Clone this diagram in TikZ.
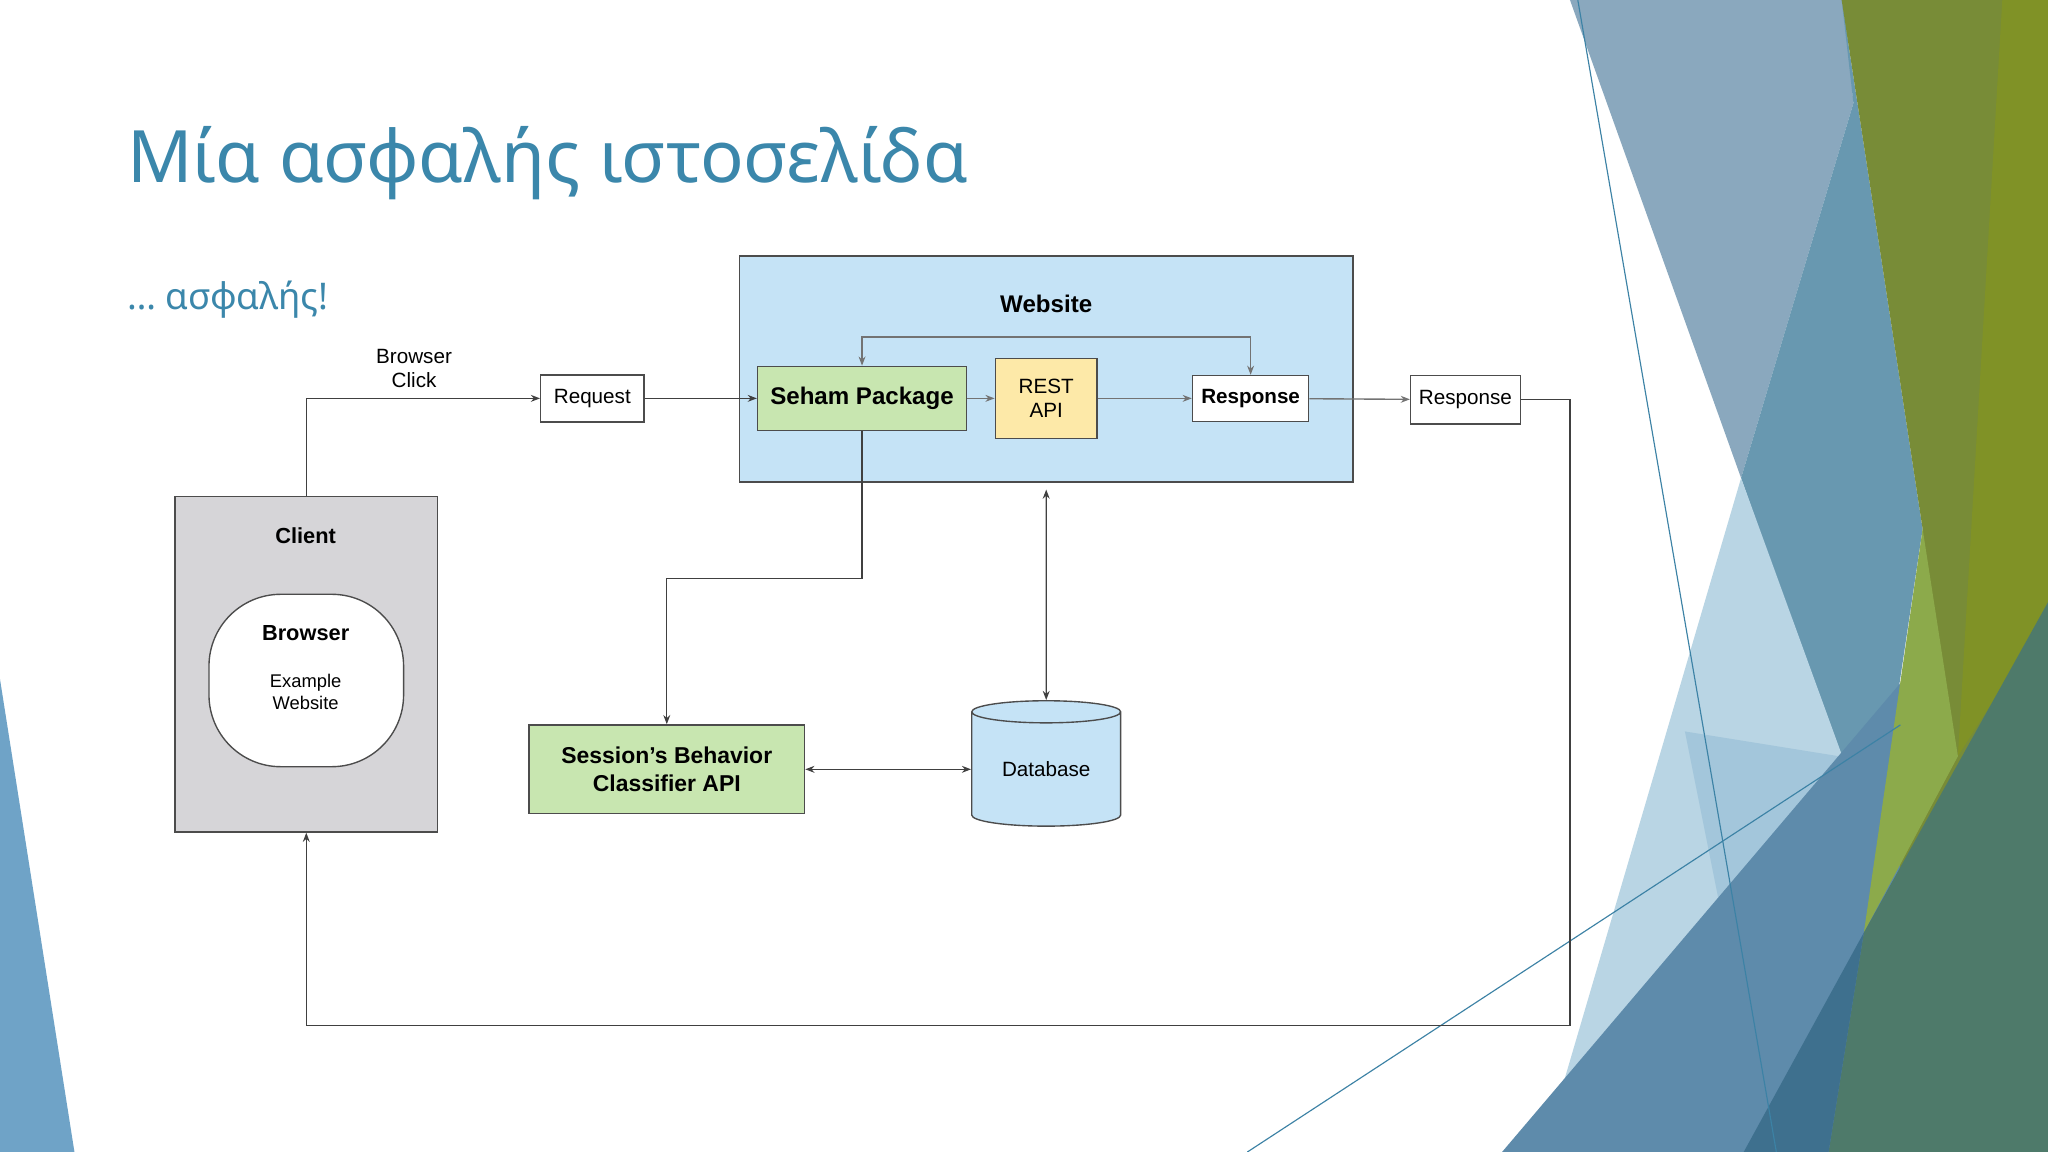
\documentclass[tikz,border=0pt]{standalone}
\usepackage{fontspec}
\setmainfont{Liberation Sans}
\newfontfamily\titlefont{Noto Sans}
\usetikzlibrary{shapes.geometric,arrows.meta}
\definecolor{ttl}{HTML}{3B87AB}
\begin{document}
\begin{tikzpicture}[x=0.02cm,y=-0.02cm,
  box/.style={draw=black!70,line width=0.6pt,inner sep=0pt},
  lbl/.style={font=\fontsize{9}{10.5}\selectfont,align=center},
  blbl/.style={font=\bfseries\fontsize{10.5}{12.5}\selectfont,align=center},
  con/.style={draw=black!75,line width=0.6pt},
  arr/.style={con,-{Stealth[length=4pt,width=3pt]}},
  darr/.style={con,{Stealth[length=4pt,width=3pt]}-{Stealth[length=4pt,width=3pt]}}]
\useasboundingbox (0,0) rectangle (1568,882);
\fill[white] (0,0) rectangle (1568,882);
% decorations
\fill[color={rgb,255:red,111;green,163;blue,199}] (0,520) -- (0,882) -- (57,882) -- cycle;
\fill[color={rgb,255:red,138;green,168;blue,190}] (1202,0) -- (1412,0) -- (1419,79) -- (1333,366) -- cycle;
\fill[color={rgb,255:red,104;green,152;blue,176}] (1419,79) -- (1410,0) -- (1472,405) -- (1435,652) -- (1408,579) -- (1333,366) -- cycle;
\fill[color={rgb,255:red,185;green,213;blue,228}] (1333,366) -- (1440,660) -- (1185,870) -- cycle;
\fill[color={rgb,255:red,163;green,198;blue,219}] (1290,560) -- (1408,579) -- (1440,660) -- (1330,760) -- cycle;
\fill[color={rgb,255:red,94;green,139;blue,171}] (1150,882) -- (1455,523) -- (1500,500) -- (1500,882) -- cycle;
\fill[color={rgb,255:red,120;green,140;blue,55}] (1410,0) -- (1568,0) -- (1568,882) -- (1440,882) -- (1472,405) -- cycle;
\fill[color={rgb,255:red,128;green,146;blue,38}] (1533,0) -- (1568,0) -- (1568,470) -- (1499,579) -- cycle;
\fill[color={rgb,255:red,140;green,170;blue,75}] (1472,405) -- (1499,579) -- (1427,714) -- cycle;
\fill[color={rgb,255:red,78;green,122;blue,106}] (1427,714) -- (1568,461) -- (1568,882) -- (1400,882) -- cycle;
\fill[color={rgb,255:red,62;green,112;blue,142}] (1335,882) -- (1427,714) -- (1400,882) -- cycle;
\draw[color={rgb,255:red,60;green,130;blue,165},line width=0.5pt] (1208,0) -- (1360,882);
\draw[color={rgb,255:red,60;green,130;blue,165},line width=0.5pt] (955,882) -- (1455,555);
% title
\node[anchor=base west,inner sep=0,text=ttl,font=\titlefont\fontsize{31.5}{38}\selectfont] (title) at (97,140) {Μία ασφαλής ιστοσελίδα};
\node[anchor=base west,inner sep=0,text=ttl,font=\titlefont\fontsize{16}{19}\selectfont] (sub) at (97,237) {… ασφαλής!};
% nodes
\node[box,fill={rgb,255:red,197;green,227;blue,246},minimum width=470*0.02cm,minimum height=173*0.02cm] (web) at (801,282.5) {};
\node[blbl] (webl) at (801,233) {Website};
\node[box,fill={rgb,255:red,200;green,230;blue,176},minimum width=160*0.02cm,minimum height=49*0.02cm,blbl] (seham) at (660,305) {Seham Package};
\node[box,fill={rgb,255:red,253;green,233;blue,168},minimum width=78*0.02cm,minimum height=61*0.02cm,lbl] (rest) at (801,305) {REST\\API};
\node[box,fill=white,minimum width=89*0.02cm,minimum height=35*0.02cm,font=\bfseries\fontsize{9}{10.5}\selectfont] (resp1) at (957.5,305) {Response};
\node[box,fill=white,minimum width=84*0.02cm,minimum height=37*0.02cm,lbl] (resp2) at (1122,306) {Response};
\node[box,fill=white,minimum width=79*0.02cm,minimum height=36*0.02cm,lbl] (req) at (453.5,305) {Request};
\node[box,fill={rgb,255:red,214;green,213;blue,216},minimum width=201*0.02cm,minimum height=257*0.02cm] (client) at (234.5,508.5) {};
\node[font=\bfseries\fontsize{9.5}{11}\selectfont] (clientl) at (234,410) {Client};
\node[box,fill=white,rounded corners=55*0.02cm,minimum width=149*0.02cm,minimum height=132*0.02cm] (browser) at (234.5,521) {};
\node[font=\bfseries\fontsize{9.5}{11}\selectfont] (browserl) at (234,485) {Browser};
\node[font=\fontsize{8}{9.5}\selectfont,align=center] (ex) at (234,530) {Example\\Website};
\node[box,fill={rgb,255:red,200;green,230;blue,176},minimum width=211*0.02cm,minimum height=68*0.02cm,font=\bfseries\fontsize{10}{12}\selectfont,align=center] (sess) at (510.5,589) {Session's Behavior\\Classifier API};
\node[cylinder,shape border rotate=90,draw=black!70,line width=0.6pt,fill={rgb,255:red,197;green,227;blue,246},minimum width=114*0.02cm,minimum height=96*0.02cm,aspect=0.25,lbl,inner sep=0pt] (db) at (801,589) {Database};
\node[lbl] (bc) at (317,282) {Browser\\Click};
% connectors
\draw[arr] (client.north) |- (req.west);
\draw[arr] (req) -- (seham);
\draw[arr,draw=black!55] (seham) -- (rest);
\draw[arr,draw=black!55] (rest) -- (resp1);
\draw[arr,draw=black!55] (resp1) -- (resp2);
\coordinate (br) at (1202,785);
\draw[arr] (resp2.east) -| (br) -| (client.south);
\coordinate (top) at (809,258);
\draw[darr,draw=black!55] (seham.north) |- (top) -| (resp1.north);
\coordinate (mid) at (585,443);
\draw[arr] (seham.south) |- (mid) -| (sess.north);
\draw[darr] (sess.east) -- (db.west |- sess.east);
\draw[darr] ([yshift=-3pt]web.south) -- (db.north);
\end{tikzpicture}
\end{document}
